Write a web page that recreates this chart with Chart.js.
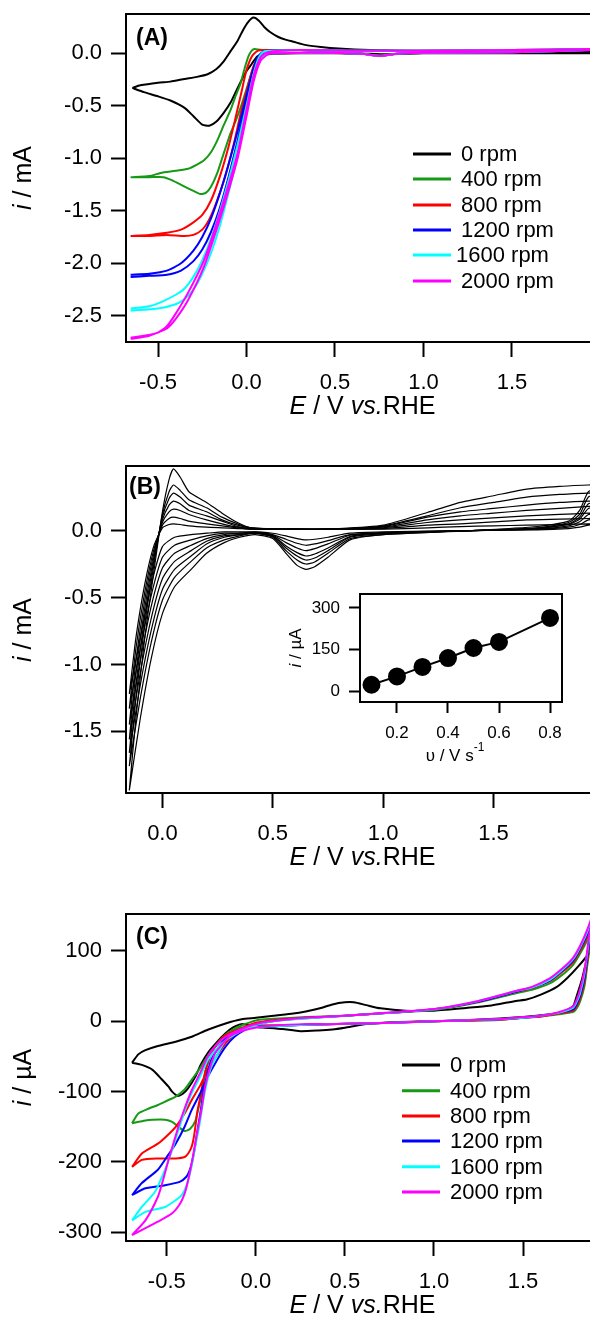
<!DOCTYPE html>
<html><head><meta charset="utf-8">
<script src="https://cdn.jsdelivr.net/npm/chart.js@4"></script>
<style>
html,body{margin:0;padding:0;background:#fff;overflow:hidden;}
#wrap{position:relative;width:590px;height:1325px;background:#fff;}
canvas{position:absolute;left:0;}
</style></head><body>
<div id="wrap">
<canvas id="cA" width="590" height="430" style="top:0px;left:0px"></canvas>
<canvas id="cB" width="590" height="450" style="top:430px;left:0px"></canvas>
<canvas id="cC" width="590" height="445" style="top:880px;left:0px"></canvas>
<canvas id="cI" width="320" height="200" style="top:580px;left:260px"></canvas>
</div>
<script>
// ---------------- DATA ----------------
// Panel A (E / V vs RHE, i / mA)
const A_LABELS = ['0 rpm','400 rpm','800 rpm','1200 rpm','1600 rpm','2000 rpm'];
const A_XTICKS = [-0.5,0.0,0.5,1.0,1.5];
const A_YTICKS = [0.0,-0.5,-1.0,-1.5,-2.0,-2.5];
const A_0 = [[-0.645,-0.33],[-0.6,-0.305],[-0.5,-0.28],[-0.43,-0.27],[-0.35,-0.245],[-0.28,-0.225],[-0.22,-0.2],[-0.17,-0.15],[-0.13,-0.08],[-0.09,0.02],[-0.05,0.12],[-0.02,0.22],[0.01,0.3],[0.04,0.34],[0.07,0.31],[0.1,0.25],[0.135,0.2],[0.18,0.155],[0.22,0.13],[0.265,0.11],[0.33,0.08],[0.42,0.06],[0.52,0.045],[0.7,0.03],[0.85,0.025],[1.0,0.02],[1.2,0.018],[1.41,0.018],[1.6,0.015],[1.8,0.013],[1.94,0.012],[2.0,0.012],[1.94,0.0],[1.5,0.0],[1.0,0.0],[0.8,-0.01],[0.7,-0.005],[0.5,0.0],[0.3,0.0],[0.15,-0.005],[0.08,-0.02],[0.06,-0.03],[0.03,-0.1],[0.0,-0.17],[-0.05,-0.33],[-0.09,-0.47],[-0.13,-0.57],[-0.17,-0.65],[-0.21,-0.69],[-0.25,-0.68],[-0.3,-0.6],[-0.35,-0.52],[-0.43,-0.45],[-0.5,-0.41],[-0.58,-0.37],[-0.645,-0.33]];
const A_400 = [[-0.655,-1.18],[-0.55,-1.17],[-0.485,-1.14],[-0.4,-1.12],[-0.33,-1.10],[-0.28,-1.06],[-0.24,-1.02],[-0.2,-0.94],[-0.165,-0.83],[-0.13,-0.69],[-0.09,-0.54],[-0.06,-0.4],[-0.034,-0.29],[-0.01,-0.14],[0.013,-0.02],[0.03,0.025],[0.045,0.04],[0.07,0.035],[0.1,0.03],[0.3,0.03],[0.6,0.025],[1.0,0.025],[1.5,0.03],[1.94,0.04],[2.0,0.045],[1.94,0.03],[1.5,0.01],[1.0,0.005],[0.85,-0.005],[0.75,-0.02],[0.65,-0.005],[0.4,0.005],[0.15,0.0],[0.1,-0.01],[0.08,-0.03],[0.06,-0.07],[0.03,-0.18],[0.004,-0.32],[-0.03,-0.5],[-0.06,-0.64],[-0.09,-0.76],[-0.13,-0.96],[-0.165,-1.14],[-0.2,-1.27],[-0.23,-1.33],[-0.26,-1.34],[-0.3,-1.31],[-0.35,-1.27],[-0.42,-1.21],[-0.47,-1.18],[-0.55,-1.18],[-0.655,-1.18]];
const A_800 = [[-0.655,-1.74],[-0.55,-1.73],[-0.45,-1.71],[-0.37,-1.68],[-0.3,-1.61],[-0.25,-1.54],[-0.2,-1.4],[-0.15,-1.17],[-0.1,-0.88],[-0.06,-0.6],[-0.03,-0.38],[0.0,-0.16],[0.03,-0.03],[0.06,0.02],[0.1,0.03],[0.3,0.03],[0.6,0.025],[1.0,0.025],[1.5,0.03],[1.94,0.04],[2.0,0.045],[1.94,0.03],[1.5,0.01],[1.0,0.005],[0.85,-0.005],[0.75,-0.025],[0.65,-0.005],[0.4,0.005],[0.15,0.0],[0.1,-0.005],[0.07,-0.04],[0.04,-0.12],[0.01,-0.3],[-0.03,-0.55],[-0.07,-0.85],[-0.12,-1.17],[-0.17,-1.42],[-0.21,-1.58],[-0.25,-1.68],[-0.3,-1.73],[-0.35,-1.74],[-0.45,-1.73],[-0.55,-1.74],[-0.655,-1.74]];
const A_1200 = [[-0.655,-2.11],[-0.55,-2.1],[-0.45,-2.07],[-0.37,-2.0],[-0.3,-1.88],[-0.25,-1.75],[-0.2,-1.57],[-0.15,-1.33],[-0.1,-1.05],[-0.05,-0.74],[0.0,-0.4],[0.04,-0.14],[0.07,-0.02],[0.1,0.02],[0.3,0.03],[0.6,0.025],[1.0,0.025],[1.5,0.03],[1.94,0.04],[2.0,0.045],[1.94,0.03],[1.5,0.01],[1.0,0.005],[0.85,-0.005],[0.75,-0.025],[0.65,-0.005],[0.4,0.005],[0.15,0.0],[0.1,-0.01],[0.07,-0.07],[0.03,-0.28],[0.0,-0.47],[-0.05,-0.83],[-0.1,-1.17],[-0.15,-1.47],[-0.2,-1.7],[-0.25,-1.87],[-0.3,-1.98],[-0.37,-2.07],[-0.45,-2.11],[-0.55,-2.12],[-0.655,-2.13]];
const A_1600 = [[-0.655,-2.43],[-0.55,-2.41],[-0.47,-2.36],[-0.4,-2.3],[-0.35,-2.24],[-0.3,-2.13],[-0.25,-1.97],[-0.2,-1.76],[-0.15,-1.5],[-0.1,-1.2],[-0.05,-0.87],[0.0,-0.5],[0.04,-0.2],[0.07,-0.04],[0.1,0.02],[0.3,0.03],[0.6,0.025],[1.0,0.025],[1.5,0.03],[1.94,0.04],[2.0,0.045],[1.94,0.03],[1.5,0.01],[1.0,0.005],[0.85,-0.005],[0.75,-0.025],[0.65,-0.005],[0.4,0.005],[0.15,0.0],[0.12,0.0],[0.08,-0.06],[0.04,-0.25],[0.0,-0.58],[-0.05,-0.97],[-0.1,-1.32],[-0.15,-1.64],[-0.2,-1.9],[-0.25,-2.1],[-0.3,-2.25],[-0.35,-2.34],[-0.4,-2.39],[-0.5,-2.43],[-0.655,-2.45]];
const A_2000 = [[-0.655,-2.71],[-0.58,-2.69],[-0.5,-2.66],[-0.45,-2.6],[-0.4,-2.48],[-0.33,-2.28],[-0.24,-1.97],[-0.15,-1.52],[-0.05,-0.95],[0.0,-0.54],[0.04,-0.22],[0.08,-0.035],[0.12,0.01],[0.3,0.03],[0.6,0.025],[1.0,0.025],[1.5,0.03],[1.94,0.04],[2.0,0.045],[1.94,0.03],[1.5,0.01],[1.0,0.005],[0.85,-0.005],[0.75,-0.025],[0.65,-0.005],[0.4,0.005],[0.15,0.0],[0.12,-0.01],[0.08,-0.07],[0.04,-0.27],[0.0,-0.6],[-0.05,-1.0],[-0.1,-1.3],[-0.15,-1.58],[-0.24,-2.03],[-0.33,-2.35],[-0.4,-2.53],[-0.45,-2.62],[-0.55,-2.69],[-0.655,-2.72]];

// Panel B (scan rates 0.1 ... 0.8 V/s), i / mA
const B_XTICKS = [0.0,0.5,1.0,1.5];
const B_YTICKS = [0.0,-0.5,-1.0,-1.5];
const B_01 = [[-0.15,-1.22],[-0.12,-0.80],[-0.08,-0.40],[-0.04,-0.12],[0.0,0.02],[0.03,0.045],[0.05,0.05],[0.08,0.045],[0.12,0.035],[0.2,0.025],[0.27,0.02],[0.34,0.015],[0.4,0.01],[0.6,0.01],[0.8,0.01],[1.0,0.01],[1.2,0.02],[1.35,0.03],[1.5,0.035],[1.65,0.04],[1.8,0.045],[1.93,0.05],[2.0,0.055],[1.93,0.04],[1.89,0.025],[1.84,0.015],[1.7,0.005],[1.4,0.0],[1.0,-0.01],[0.85,-0.02],[0.75,-0.05],[0.69,-0.065],[0.65,-0.07],[0.61,-0.06],[0.56,-0.04],[0.5,-0.02],[0.42,-0.01],[0.35,-0.01],[0.28,-0.01],[0.2,-0.02],[0.13,-0.03],[0.055,-0.05],[0.0,-0.12],[-0.05,-0.40],[-0.1,-0.80],[-0.15,-1.22]];
const B_02 = [[-0.15,-1.33],[-0.12,-0.88],[-0.08,-0.46],[-0.04,-0.15],[0.0,0.04],[0.03,0.09],[0.05,0.10],[0.08,0.09],[0.12,0.07],[0.2,0.05],[0.27,0.035],[0.34,0.02],[0.4,0.01],[0.6,0.01],[0.8,0.01],[1.0,0.015],[1.2,0.04],[1.35,0.05],[1.5,0.065],[1.65,0.08],[1.8,0.085],[1.93,0.09],[2.0,0.095],[1.93,0.08],[1.89,0.045],[1.84,0.025],[1.7,0.01],[1.4,0.0],[1.0,-0.015],[0.85,-0.03],[0.75,-0.075],[0.69,-0.10],[0.65,-0.11],[0.61,-0.095],[0.56,-0.065],[0.5,-0.03],[0.42,-0.01],[0.35,-0.02],[0.28,-0.02],[0.2,-0.04],[0.13,-0.07],[0.055,-0.11],[0.0,-0.20],[-0.05,-0.48],[-0.1,-0.88],[-0.15,-1.33]];
const B_03 = [[-0.15,-1.45],[-0.12,-0.97],[-0.08,-0.52],[-0.04,-0.18],[0.0,0.06],[0.03,0.14],[0.05,0.16],[0.08,0.15],[0.12,0.12],[0.2,0.08],[0.27,0.05],[0.34,0.025],[0.4,0.015],[0.6,0.01],[0.8,0.01],[1.0,0.02],[1.2,0.06],[1.35,0.08],[1.5,0.095],[1.65,0.11],[1.8,0.12],[1.93,0.13],[2.0,0.135],[1.93,0.12],[1.89,0.065],[1.84,0.035],[1.7,0.01],[1.4,0.0],[1.0,-0.02],[0.85,-0.035],[0.75,-0.10],[0.69,-0.135],[0.65,-0.15],[0.61,-0.13],[0.56,-0.09],[0.5,-0.035],[0.42,-0.015],[0.35,-0.02],[0.28,-0.03],[0.2,-0.06],[0.13,-0.11],[0.055,-0.17],[0.0,-0.28],[-0.05,-0.56],[-0.1,-0.97],[-0.15,-1.45]];
const B_04 = [[-0.15,-1.56],[-0.12,-1.06],[-0.08,-0.58],[-0.04,-0.21],[0.0,0.08],[0.03,0.19],[0.05,0.22],[0.08,0.20],[0.12,0.15],[0.2,0.11],[0.27,0.07],[0.34,0.03],[0.4,0.015],[0.6,0.01],[0.8,0.012],[1.0,0.025],[1.2,0.08],[1.35,0.11],[1.5,0.13],[1.65,0.15],[1.8,0.165],[1.93,0.18],[2.0,0.185],[1.93,0.165],[1.89,0.085],[1.84,0.045],[1.7,0.015],[1.4,0.0],[1.0,-0.02],[0.85,-0.045],[0.75,-0.13],[0.69,-0.175],[0.65,-0.19],[0.61,-0.165],[0.56,-0.115],[0.5,-0.04],[0.42,-0.02],[0.35,-0.03],[0.28,-0.04],[0.2,-0.08],[0.13,-0.15],[0.055,-0.23],[0.0,-0.36],[-0.05,-0.65],[-0.1,-1.06],[-0.15,-1.56]];
const B_05 = [[-0.15,-1.66],[-0.12,-1.15],[-0.08,-0.64],[-0.04,-0.24],[0.0,0.10],[0.03,0.24],[0.05,0.28],[0.08,0.25],[0.12,0.19],[0.2,0.14],[0.27,0.08],[0.34,0.04],[0.4,0.02],[0.6,0.01],[0.8,0.012],[1.0,0.03],[1.2,0.10],[1.35,0.14],[1.5,0.165],[1.65,0.19],[1.8,0.21],[1.93,0.22],[2.0,0.225],[1.93,0.2],[1.89,0.10],[1.84,0.05],[1.7,0.02],[1.4,0.0],[1.0,-0.025],[0.85,-0.05],[0.75,-0.15],[0.69,-0.205],[0.65,-0.22],[0.61,-0.19],[0.56,-0.13],[0.5,-0.045],[0.42,-0.02],[0.35,-0.03],[0.28,-0.05],[0.2,-0.10],[0.13,-0.19],[0.055,-0.29],[0.0,-0.44],[-0.05,-0.74],[-0.1,-1.15],[-0.15,-1.66]];
const B_06 = [[-0.15,-1.76],[-0.12,-1.25],[-0.08,-0.70],[-0.04,-0.27],[0.0,0.12],[0.03,0.29],[0.05,0.34],[0.08,0.30],[0.12,0.23],[0.2,0.17],[0.27,0.10],[0.34,0.05],[0.4,0.02],[0.6,0.01],[0.8,0.012],[1.0,0.035],[1.2,0.11],[1.35,0.17],[1.5,0.21],[1.65,0.25],[1.8,0.27],[1.93,0.28],[2.0,0.285],[1.93,0.25],[1.89,0.12],[1.84,0.06],[1.7,0.02],[1.4,0.0],[1.0,-0.03],[0.85,-0.06],[0.75,-0.17],[0.69,-0.235],[0.65,-0.25],[0.61,-0.22],[0.56,-0.15],[0.5,-0.05],[0.42,-0.02],[0.35,-0.04],[0.28,-0.07],[0.2,-0.13],[0.13,-0.23],[0.055,-0.35],[0.0,-0.52],[-0.05,-0.83],[-0.1,-1.25],[-0.15,-1.76]];
const B_08 = [[-0.15,-1.94],[-0.12,-1.40],[-0.08,-0.80],[-0.04,-0.32],[0.0,0.14],[0.03,0.38],[0.05,0.46],[0.08,0.40],[0.12,0.29],[0.2,0.21],[0.27,0.13],[0.34,0.06],[0.4,0.02],[0.6,0.01],[0.8,0.015],[1.0,0.04],[1.2,0.135],[1.35,0.21],[1.5,0.26],[1.65,0.31],[1.8,0.33],[1.93,0.34],[2.0,0.345],[1.93,0.29],[1.89,0.15],[1.84,0.07],[1.7,0.03],[1.4,0.0],[1.0,-0.03],[0.85,-0.07],[0.75,-0.20],[0.69,-0.27],[0.65,-0.29],[0.61,-0.26],[0.56,-0.17],[0.5,-0.06],[0.42,-0.03],[0.35,-0.05],[0.28,-0.09],[0.2,-0.17],[0.13,-0.29],[0.055,-0.42],[0.0,-0.62],[-0.05,-0.95],[-0.1,-1.40],[-0.15,-1.94]];

// Inset of B: peak current vs scan rate
const INSET_RATE = [0.1,0.2,0.3,0.4,0.5,0.6,0.8];
const INSET_I = [24,54,88,120,156,178,264];
const INSET_XTICKS = [0.2,0.4,0.6,0.8];
const INSET_YTICKS = [0,150,300];

// Panel C (E / V vs RHE, i / µA)
const C_LABELS = ['0 rpm','400 rpm','800 rpm','1200 rpm','1600 rpm','2000 rpm'];
const C_XTICKS = [-0.5,0.0,0.5,1.0,1.5];
const C_YTICKS = [100,0,-100,-200,-300];
const C_0 = [[-0.695,-59],[-0.66,-47],[-0.62,-41],[-0.55,-35],[-0.45,-29],[-0.36,-22],[-0.27,-12],[-0.17,-3],[-0.08,3],[0.0,5],[0.1,8],[0.21,11],[0.28,14],[0.36,18.5],[0.43,24],[0.5,27],[0.55,27],[0.62,23],[0.7,18.5],[0.84,15],[0.99,15],[1.18,19],[1.31,22],[1.46,29],[1.52,31],[1.6,38],[1.69,49],[1.75,62],[1.81,78],[1.87,97],[1.92,118],[1.95,130],[1.9,112],[1.87,98],[1.85,80],[1.83,59],[1.8,35],[1.78,21],[1.72,13],[1.65,10],[1.5,6],[1.37,4],[1.2,2],[0.99,0],[0.8,-1],[0.62,-4],[0.5,-9],[0.43,-11.5],[0.35,-13],[0.25,-14],[0.15,-11],[0.05,-9],[0.0,-8],[-0.08,-4],[-0.13,-9],[-0.17,-17],[-0.22,-30],[-0.27,-45],[-0.31,-62],[-0.34,-79],[-0.38,-95],[-0.41,-103],[-0.44,-106],[-0.47,-100],[-0.49,-93],[-0.53,-82],[-0.58,-69],[-0.64,-62],[-0.695,-59]];
const C_400 = [[-0.695,-145],[-0.66,-131],[-0.6,-124],[-0.55,-119],[-0.5,-113],[-0.45,-107],[-0.4,-97],[-0.36,-83],[-0.32,-69],[-0.285,-55],[-0.25,-42],[-0.21,-31],[-0.16,-18],[-0.117,-10],[-0.05,-3],[0.01,2],[0.1,3.5],[0.28,6],[0.5,8],[0.75,12],[1.0,16],[1.25,27],[1.46,40],[1.55,45],[1.65,54],[1.72,66],[1.78,80],[1.82,96],[1.86,115],[1.9,142],[1.95,175],[1.9,138],[1.875,105],[1.86,78],[1.845,50],[1.82,28],[1.8,18],[1.78,13],[1.7,10],[1.6,7],[1.5,5],[1.37,2],[1.0,0],[0.62,-3],[0.4,-4],[0.28,-5],[0.1,-6],[-0.02,-6],[-0.08,-9],[-0.15,-15],[-0.19,-24],[-0.23,-36],[-0.26,-52],[-0.285,-74],[-0.3,-97],[-0.32,-121],[-0.34,-142],[-0.37,-153],[-0.4,-156],[-0.435,-150],[-0.47,-143],[-0.51,-140],[-0.58,-140],[-0.62,-141],[-0.695,-145]];
const C_800 = [[-0.695,-207],[-0.64,-188],[-0.55,-174],[-0.5,-163],[-0.45,-150],[-0.4,-131],[-0.36,-112],[-0.31,-90],[-0.27,-69],[-0.22,-49],[-0.17,-31],[-0.12,-18],[-0.08,-10],[0.0,-2],[0.05,0],[0.15,3],[0.28,5],[0.5,8],[0.75,12],[1.0,17],[1.25,28],[1.46,42],[1.55,47],[1.65,57],[1.72,70],[1.78,84],[1.82,100],[1.86,120],[1.9,146],[1.95,178],[1.9,142],[1.875,112],[1.86,84],[1.845,56],[1.82,32],[1.8,21],[1.78,15],[1.7,11],[1.6,7],[1.5,5],[1.37,2.5],[1.0,0],[0.62,-3],[0.4,-4],[0.28,-5],[0.1,-6],[-0.04,-7],[-0.1,-12],[-0.17,-19.5],[-0.21,-30],[-0.25,-45.5],[-0.275,-63],[-0.295,-83.5],[-0.31,-105],[-0.33,-131],[-0.345,-160],[-0.36,-178],[-0.38,-188],[-0.4,-193],[-0.45,-195],[-0.55,-195],[-0.64,-197],[-0.695,-207]];
const C_1200 = [[-0.695,-247],[-0.64,-230],[-0.55,-211],[-0.5,-193],[-0.45,-174],[-0.4,-150],[-0.36,-126],[-0.31,-101],[-0.27,-79],[-0.22,-56],[-0.17,-36],[-0.12,-22],[-0.06,-12],[0.0,-5],[0.07,-1],[0.15,2],[0.28,4.5],[0.5,8],[0.75,12],[1.0,17],[1.25,28],[1.46,42],[1.55,48],[1.65,58],[1.72,72],[1.78,86],[1.82,103],[1.86,124],[1.9,150],[1.95,183],[1.9,146],[1.875,118],[1.86,90],[1.845,62],[1.82,36],[1.8,24],[1.78,17],[1.7,12],[1.6,8],[1.5,5],[1.37,3],[1.0,0],[0.62,-3],[0.4,-4],[0.28,-5],[0.1,-7],[-0.02,-7.6],[-0.1,-14],[-0.17,-24],[-0.21,-37],[-0.25,-55],[-0.275,-77],[-0.295,-102],[-0.31,-128],[-0.33,-159],[-0.345,-183],[-0.36,-202],[-0.375,-214],[-0.39,-221],[-0.425,-228],[-0.51,-233],[-0.62,-237.5],[-0.695,-247]];
const C_1600 = [[-0.695,-283],[-0.64,-264],[-0.565,-242],[-0.51,-211],[-0.47,-183],[-0.435,-155],[-0.4,-128],[-0.36,-102],[-0.31,-77],[-0.27,-55],[-0.22,-39],[-0.17,-27],[-0.1,-15],[-0.04,-8.5],[0.05,-2],[0.15,1.5],[0.28,4],[0.5,8],[0.75,12],[1.0,17],[1.25,29],[1.46,43],[1.55,48],[1.65,59],[1.72,73],[1.78,88],[1.82,105],[1.86,127],[1.9,155],[1.95,187],[1.9,150],[1.875,123],[1.86,96],[1.845,68],[1.82,40],[1.8,27],[1.78,19],[1.7,12],[1.6,8],[1.5,5],[1.37,3],[1.0,0],[0.62,-3],[0.4,-4],[0.28,-5],[0.1,-7],[-0.04,-9],[-0.1,-16],[-0.17,-27],[-0.21,-44],[-0.25,-64.6],[-0.275,-87],[-0.295,-112],[-0.315,-145],[-0.34,-178],[-0.36,-205],[-0.38,-226],[-0.4,-240],[-0.425,-249.5],[-0.51,-264],[-0.62,-271],[-0.695,-283]];
const C_2000 = [[-0.695,-304],[-0.62,-283],[-0.55,-249.5],[-0.52,-225],[-0.49,-197],[-0.435,-150],[-0.4,-124],[-0.36,-98],[-0.31,-72],[-0.27,-50],[-0.22,-33],[-0.17,-22],[-0.1,-13],[-0.04,-7],[0.05,-1],[0.15,2],[0.28,5],[0.5,8],[0.75,12.5],[1.0,17.5],[1.25,29],[1.46,43],[1.55,49],[1.65,61],[1.72,75],[1.78,90],[1.82,107],[1.86,130],[1.9,158],[1.95,190],[1.9,152],[1.875,128],[1.86,100],[1.845,72],[1.82,45],[1.8,30],[1.78,21],[1.7,13],[1.6,8],[1.5,6],[1.37,3],[1.0,0],[0.62,-3],[0.4,-4],[0.28,-4],[0.1,-6],[0.01,-8.5],[-0.08,-14],[-0.15,-22],[-0.2,-36],[-0.23,-45.5],[-0.26,-68],[-0.285,-93],[-0.305,-125],[-0.33,-159],[-0.355,-195],[-0.38,-226],[-0.4,-245],[-0.425,-259],[-0.47,-273],[-0.55,-285],[-0.62,-294],[-0.695,-304]];

// ---------------- STYLE ----------------
const FONT = "'Liberation Sans', Arial, Helvetica, sans-serif";
const COL = ['#000000','#169a16','#ff0000','#0000ff','#00ffff','#ff00ff'];
Chart.defaults.font.family = FONT;
Chart.defaults.color = '#000';

function xy(a){ return a.map(p => ({x:p[0], y:p[1]})); }

function drawParts(ctx, parts, cx, y, size){
  let w = 0;
  const ws = parts.map(p => {
    const s = p.size || size;
    ctx.font = (p.it?'italic ':'') + s + 'px ' + FONT;
    const m = ctx.measureText(p.t).width; w += m; return m;
  });
  let x = cx - w/2;
  ctx.textAlign = 'left'; ctx.textBaseline = 'alphabetic';
  parts.forEach((p, k) => {
    const s = p.size || size;
    ctx.font = (p.it?'italic ':'') + s + 'px ' + FONT;
    ctx.fillText(p.t, x, y + (p.dy||0)); x += ws[k];
  });
}

function axis(o){
  return {
    type:'linear', min:o.min, max:o.max,
    afterBuildTicks: s => { s.ticks = o.ticks.map(v => ({value:v})); },
    afterFit: s => {
      if (o.w !== undefined) s.width = o.w;
      if (o.h !== undefined) s.height = o.h;
      s.paddingTop = 0; s.paddingBottom = 0; s.paddingLeft = 0; s.paddingRight = 0;
    },
    ticks:{ callback: v => o.fmt(v), font:{family:FONT, size:o.size}, color:'#000',
            padding:o.pad, autoSkip:false, maxRotation:0, minRotation:0 },
    grid:{ drawOnChartArea:false, drawTicks:true, tickLength:o.tl, tickWidth:2, tickColor:'#000', color:'#000' },
    border:{ display:true, width:2, color:'#000' }
  };
}

function makeChart(id, o){
  const deco = {
    id:'deco_'+id,
    afterDraw(chart){
      const ctx = chart.ctx, ca = chart.chartArea;
      ctx.save();
      ctx.strokeStyle = '#000'; ctx.lineWidth = 2;
      ctx.beginPath();
      if (o.fullBox){ ctx.rect(ca.left, ca.top, ca.right-ca.left, ca.bottom-ca.top); }
      else { ctx.moveTo(ca.left-1, ca.top); ctx.lineTo(ca.right, ca.top); }
      ctx.stroke();
      ctx.fillStyle = '#000';
      drawParts(ctx, o.xTitle, o.xTitlePos[0], o.xTitlePos[1], o.titleSize);
      ctx.save();
      ctx.translate(o.yTitlePos[0], o.yTitlePos[1]); ctx.rotate(-Math.PI/2);
      drawParts(ctx, o.yTitle, 0, 0, o.titleSize);
      ctx.restore();
      if (o.panelLabel){
        ctx.font = 'bold 23px ' + FONT; ctx.textAlign='left'; ctx.textBaseline='alphabetic';
        ctx.fillText(o.panelLabel, o.panelPos[0], o.panelPos[1]);
      }
      if (o.legend){
        const L = o.legend;
        L.labels.forEach((lab, k) => {
          const y = L.rows[k];
          ctx.strokeStyle = L.colors[k]; ctx.lineWidth = 3;
          ctx.beginPath(); ctx.moveTo(L.x1, y); ctx.lineTo(L.x2, y); ctx.stroke();
          ctx.fillStyle = '#000'; ctx.font = '22px ' + FONT;
          ctx.textAlign='left'; ctx.textBaseline='middle';
          const tx = (L.tx && L.tx[k] !== undefined && L.tx[k] !== null) ? L.tx[k] : L.tx0;
          ctx.fillText(lab, tx, y+1);
        });
      }
      ctx.restore();
    }
  };
  return new Chart(document.getElementById(id), {
    type:'scatter',
    data:{ datasets:o.datasets },
    options:{
      responsive:false, animation:false, events:[],
      layout:{ padding:o.padding },
      plugins:{ legend:{display:false}, tooltip:{enabled:false} },
      scales:{ x:axis(o.x), y:axis(o.y) }
    },
    plugins:[deco]
  });
}

function lineDS(arr, color, w){
  return { data:xy(arr), showLine:true, borderColor:color, backgroundColor:color,
           borderWidth:w, pointRadius:0, tension:0.2, fill:false };
}

const fmt1 = v => Number(v).toFixed(1);
const fmt0 = v => Number(v).toFixed(0);
const X_TITLE = [{t:'E',it:true},{t:' / V '},{t:'vs.',it:true},{t:'RHE'}];

// Panel A
const A_SETS = [A_0, A_400, A_800, A_1200, A_1600, A_2000];
makeChart('cA', {
  datasets: A_SETS.map((a,k)=>lineDS(a, COL[k], 2)).reverse(),
  padding:{top:14,left:0,right:0,bottom:0},
  x:{min:-0.681,max:1.941,ticks:A_XTICKS,fmt:fmt1,size:22,pad:13,tl:15,h:88},
  y:{min:-2.75,max:0.374,ticks:A_YTICKS,fmt:fmt1,size:22,pad:9,tl:15,w:126},
  xTitle:X_TITLE, xTitlePos:[362.5,414], titleSize:25,
  yTitle:[{t:'i',it:true},{t:' / mA'}], yTitlePos:[31,178],
  panelLabel:'(A)', panelPos:[136,45],
  legend:{labels:A_LABELS, colors:COL, rows:[154,179,205,230,255,281], x1:413, x2:451, tx0:461, tx:[null,null,null,null,456,null]}
});

// Panel B
const B_SETS = [B_01,B_02,B_03,B_04,B_05,B_06,B_08];
makeChart('cB', {
  datasets: B_SETS.map(a=>lineDS(a,'#000',1.2)),
  padding:{top:36,left:0,right:0,bottom:0},
  x:{min:-0.165,max:1.937,ticks:B_XTICKS,fmt:fmt1,size:22,pad:13,tl:15,h:87},
  y:{min:-1.96,max:0.482,ticks:B_YTICKS,fmt:fmt1,size:22,pad:9,tl:15,w:126},
  xTitle:X_TITLE, xTitlePos:[362.5,435], titleSize:25,
  yTitle:[{t:'i',it:true},{t:' / mA'}], yTitlePos:[31,200],
  panelLabel:'(B)', panelPos:[129,63.5]
});

// Inset
makeChart('cI', {
  datasets:[{ data:INSET_RATE.map((v,k)=>({x:v,y:INSET_I[k]})), showLine:true, borderColor:'#000',
              backgroundColor:'#000', borderWidth:2, pointRadius:8, pointBackgroundColor:'#000',
              pointBorderColor:'#000', tension:0 }],
  padding:{top:14,left:0,right:18,bottom:0},
  x:{min:0.055,max:0.847,ticks:INSET_XTICKS,fmt:fmt1,size:17,pad:10,tl:11,h:78},
  y:{min:-38,max:350,ticks:INSET_YTICKS,fmt:fmt0,size:17,pad:9,tl:11,w:100},
  fullBox:true,
  xTitle:[{t:'\u03C5 / V s'},{t:'-1',size:12,dy:-10}], xTitlePos:[195,181], titleSize:17,
  yTitle:[{t:'i',it:true},{t:' / \u00B5A'}], yTitlePos:[41,68]
});

// Panel C
const C_SETS = [C_0, C_400, C_800, C_1200, C_1600, C_2000];
makeChart('cC', {
  datasets: C_SETS.map((a,k)=>lineDS(a, COL[k], 2)).reverse(),
  padding:{top:34,left:0,right:0,bottom:0},
  x:{min:-0.729,max:1.876,ticks:C_XTICKS,fmt:fmt1,size:22,pad:13,tl:15,h:84},
  y:{min:-312.4,max:152.6,ticks:C_YTICKS,fmt:fmt0,size:22,pad:9,tl:15,w:126},
  xTitle:X_TITLE, xTitlePos:[362.5,433], titleSize:25,
  yTitle:[{t:'i',it:true},{t:' / \u00B5A'}], yTitlePos:[31,197.5],
  panelLabel:'(C)', panelPos:[136,63.5],
  legend:{labels:C_LABELS, colors:COL, rows:[185,210.7,236,261,286.7,312], x1:402, x2:440, tx0:450}
});
</script>
</body></html>
